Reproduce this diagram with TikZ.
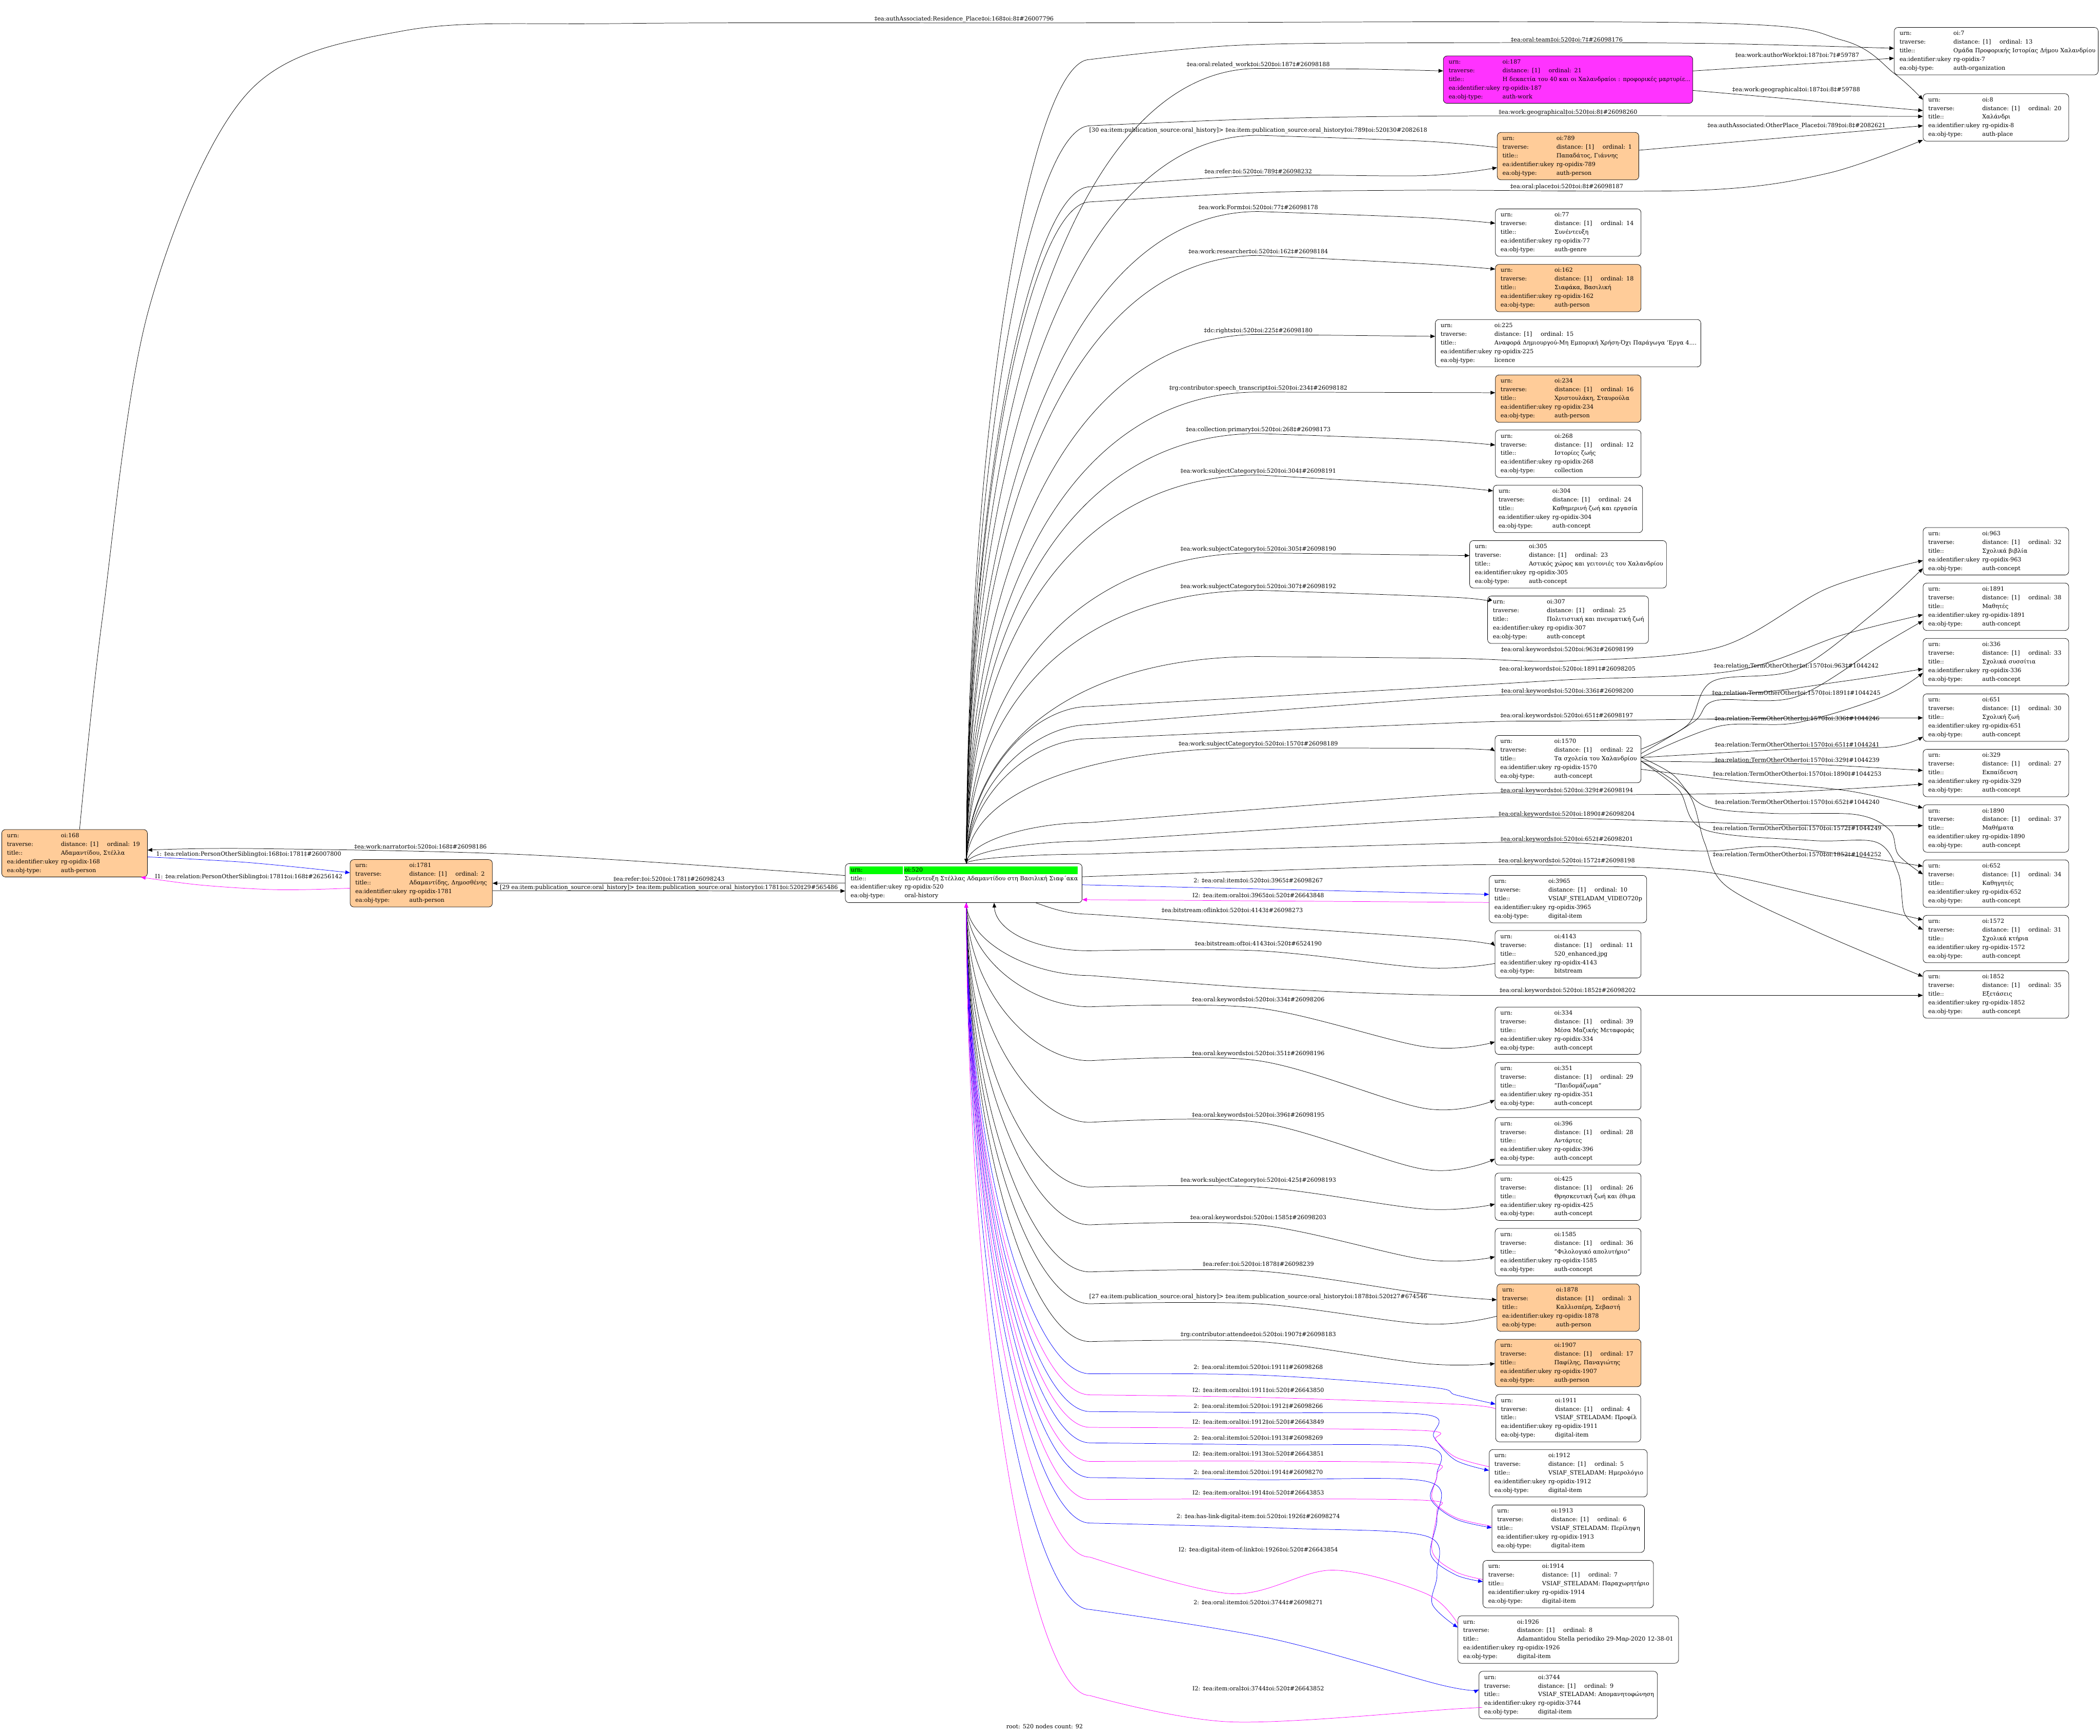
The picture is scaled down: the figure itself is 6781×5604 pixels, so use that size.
\documentclass[tikz,border=0pt]{standalone}
\usepackage{fontspec}
\setmainfont{DejaVu Serif}
\usetikzlibrary{arrows.meta,calc}
\definecolor{peach}{RGB}{255,204,153}
\definecolor{workpink}{RGB}{255,51,255}
\definecolor{rootgreen}{RGB}{0,255,0}
\definecolor{itemblue}{RGB}{0,0,255}
\definecolor{itemmag}{RGB}{255,0,255}

\newcommand\recfont{\fontsize{5.3pt}{7.97pt}\selectfont}
\newcommand\reccol[1]{\makebox[1.74cm][l]{#1}}
\newcommand\recrows[4]{%
  \mbox{\reccol{urn:}oi:#1}\\
  \mbox{\reccol{traverse:}\makebox[1.49cm][l]{distance: [1]}ordinal: #2}\\
  \mbox{\reccol{title::}#3}\\
  \mbox{\reccol{ea:identifier:ukey}rg-opidix-#1}\\
  \mbox{\reccol{ea:obj-type:}#4}}

\begin{document}
\begin{tikzpicture}[
  x=0.01cm, y=-0.01cm, line width=0.35pt,
  rec/.style 2 args={draw, rounded corners=0.12cm, anchor=north west,
    minimum width=#1cm, text width=#2cm, minimum height=1.53cm,
    inner xsep=0.17cm, inner ysep=0pt, align=left, font=\recfont},
  person/.style={fill=peach},
  work/.style={fill=workpink},
  lbl/.style={font=\recfont, inner sep=0pt},
  arr/.style={-{Triangle[length=0.15cm,width=0.12cm]}},
  itm/.style={arr, itemblue},
  bck/.style={arr, itemmag},
  spl/.style={smooth, tension=0.55}
]
\fill[white] (0,0) rectangle (6781,5604);
\useasboundingbox (0,0) rectangle (6781,5604);

% root record
\fill[rootgreen] (2743,2797) rectangle (2915,2822);
\fill[rootgreen] (2918,2797) rectangle (3480,2822);
\node[rec={7.64}{7.30}, minimum height=1.26cm] (n520) at (2729,2788)
  {\mbox{\reccol{urn:}oi:520}\\
   \mbox{\reccol{title::}Συνέντευξη Στέλλας Αδαμαντίδου στη Βασιλική Σιαφ΄ακα}\\
   \mbox{\reccol{ea:identifier:ukey}rg-opidix-520}\\
   \mbox{\reccol{ea:obj-type:}oral-history}};

% left side
\node[rec={4.70}{4.36}, person] (n168)  at (5,2678)    {\recrows{168}{19}{Αδαμαντίδου, Στέλλα}{auth-person}};
\node[rec={4.59}{4.25}, person] (n1781) at (1130,2775) {\recrows{1781}{2}{Αδαμαντίδης, Δημοσθένης}{auth-person}};

% middle column
\node[rec={8.05}{7.71}, work]   (n187)  at (4660,180)  {\recrows{187}{21}{Η δεκαετία του 40 και οι Χαλανδραίοι : προφορικές μαρτυρίε...}{auth-work}};
\node[rec={4.57}{4.23}, person] (n789)  at (4834,427)  {\recrows{789}{1}{Παπαδάτος, Γιάννης}{auth-person}};
\node[rec={4.70}{4.36}]         (n77)   at (4828,674)  {\recrows{77}{14}{Συνέντευξη}{auth-genre}};
\node[rec={4.70}{4.36}, person] (n162)  at (4828,853)  {\recrows{162}{18}{Σιαφάκα, Βασιλική}{auth-person}};
\node[rec={8.57}{8.23}]         (n225)  at (4634,1031) {\recrows{225}{15}{Αναφορά Δημιουργού-Μη Εμπορική Χρήση-Όχι Παράγωγα 'Εργα 4....}{licence}};
\node[rec={4.70}{4.36}, person] (n234)  at (4828,1210) {\recrows{234}{16}{Χριστουλάκη, Σταυρούλα}{auth-person}};
\node[rec={4.70}{4.36}]         (n268)  at (4828,1388) {\recrows{268}{12}{Ιστορίες ζωής}{collection}};
\node[rec={4.82}{4.48}]         (n304)  at (4821,1566) {\recrows{304}{24}{Καθημερινή ζωή και εργασία}{auth-concept}};
\node[rec={6.35}{6.01}]         (n305)  at (4745,1745) {\recrows{305}{23}{Αστικός χώρος και γειτονιές του Χαλανδρίου}{auth-concept}};
\node[rec={5.19}{4.85}]         (n307)  at (4803,1924) {\recrows{307}{25}{Πολιτιστική και πνευματική ζωή}{auth-concept}};
\node[rec={4.71}{4.37}]         (n1570) at (4827,2374) {\recrows{1570}{22}{Τα σχολεία του Χαλανδρίου}{auth-concept}};
\node[rec={5.08}{4.74}]         (n3965) at (4808,2826) {\recrows{3965}{10}{VSIAF\_STELADAM\_VIDEO720p}{digital-item}};
\node[rec={4.71}{4.37}]         (n4143) at (4827,3004) {\recrows{4143}{11}{520\_enhanced.jpg}{bitstream}};
\node[rec={4.71}{4.37}]         (n334)  at (4827,3251) {\recrows{334}{39}{Μέσα Μαζικής Μεταφοράς}{auth-concept}};
\node[rec={4.71}{4.37}]         (n351)  at (4827,3430) {\recrows{351}{29}{"Παιδομάζωμα"}{auth-concept}};
\node[rec={4.71}{4.37}]         (n396)  at (4827,3608) {\recrows{396}{28}{Αντάρτες}{auth-concept}};
\node[rec={4.71}{4.37}]         (n425)  at (4827,3787) {\recrows{425}{26}{Θρησκευτική ζωή και έθιμα}{auth-concept}};
\node[rec={4.71}{4.37}]         (n1585) at (4827,3966) {\recrows{1585}{36}{"Φιλολογικό απολυτήριο"}{auth-concept}};
\node[rec={4.60}{4.26}, person] (n1878) at (4833,4145) {\recrows{1878}{3}{Καλλισπέρη, Σεβαστή}{auth-person}};
\node[rec={4.71}{4.37}, person] (n1907) at (4827,4324) {\recrows{1907}{17}{Παφίλης, Παναγιώτης}{auth-person}};
\node[rec={4.68}{4.34}]         (n1911) at (4829,4502) {\recrows{1911}{4}{VSIAF\_STELADAM: Προφίλ}{digital-item}};
\node[rec={5.10}{4.76}]         (n1912) at (4808,4680) {\recrows{1912}{5}{VSIAF\_STELADAM: Ημερολόγιο}{digital-item}};
\node[rec={4.92}{4.58}]         (n1913) at (4817,4859) {\recrows{1913}{6}{VSIAF\_STELADAM: Περίληψη}{digital-item}};
\node[rec={5.50}{5.16}]         (n1914) at (4788,5038) {\recrows{1914}{7}{VSIAF\_STELADAM: Παραχωρητήριο}{digital-item}};
\node[rec={7.12}{6.78}]         (n1926) at (4707,5217) {\recrows{1926}{8}{Adamantidou Stella periodiko 29-Μαρ-2020 12-38-01}{digital-item}};
\node[rec={5.76}{5.42}]         (n3744) at (4775,5396) {\recrows{3744}{9}{VSIAF\_STELADAM: Απομανητοφώνηση}{digital-item}};

% right column
\node[rec={6.58}{6.24}] (n7)    at (6116,88)   {\recrows{7}{13}{Ομάδα Προφορικής Ιστορίας Δήμου Χαλανδρίου}{auth-organization}};
\node[rec={4.70}{4.36}] (n8)    at (6209,302)  {\recrows{8}{20}{Χαλάνδρι}{auth-place}};
\node[rec={4.70}{4.36}] (n963)  at (6209,1703) {\recrows{963}{32}{Σχολικά βιβλία}{auth-concept}};
\node[rec={4.70}{4.36}] (n1891) at (6209,1882) {\recrows{1891}{38}{Μαθητές}{auth-concept}};
\node[rec={4.70}{4.36}] (n336)  at (6209,2061) {\recrows{336}{33}{Σχολικά συσσίτια}{auth-concept}};
\node[rec={4.70}{4.36}] (n651)  at (6209,2240) {\recrows{651}{30}{Σχολική ζωή}{auth-concept}};
\node[rec={4.70}{4.36}] (n329)  at (6209,2419) {\recrows{329}{27}{Εκπαίδευση}{auth-concept}};
\node[rec={4.70}{4.36}] (n1890) at (6209,2598) {\recrows{1890}{37}{Μαθήματα}{auth-concept}};
\node[rec={4.70}{4.36}] (n652)  at (6209,2776) {\recrows{652}{34}{Καθηγητές}{auth-concept}};
\node[rec={4.70}{4.36}] (n1572) at (6209,2955) {\recrows{1572}{31}{Σχολικά κτήρια}{auth-concept}};
\node[rec={4.70}{4.36}] (n1852) at (6209,3134) {\recrows{1852}{35}{Εξετάσεις}{auth-concept}};

% ports
\coordinate (top520) at ($(n520.north west)+(391,0)$);
\coordinate (bot520) at ($(n520.south west)+(391,0)$);
\coordinate (bot520b) at ($(n520.south west)+(616,0)$);
\coordinate (p520b2) at ($(n520.south west)+(481,0)$);
\coordinate (p520w1) at ($(n520.north west)+(0,39)$);
\coordinate (p520w2) at ($(n520.north west)+(0,63)$);
\coordinate (p520w3) at ($(n520.north west)+(0,89)$);
\coordinate (p520e1) at ($(n520.north east)+(0,43)$);
\coordinate (p520e2) at ($(n520.north east)+(0,69)$);
\coordinate (p520e3) at ($(n520.north east)+(0,117)$);
\coordinate (p168t)  at ($(n168.north west)+(252,0)$);
\coordinate (p168m)  at ($(n168.south west)+(450,0)$);
\coordinate (p168e1) at ($(n168.north east)+(0,67)$);
\coordinate (p168e2) at ($(n168.north east)+(0,89)$);
\coordinate (p1781s) at ($(n1781.north west)+(0,43)$);
\coordinate (p1781m) at ($(n1781.north west)+(0,93)$);
\coordinate (p1781r) at ($(n1781.north east)+(0,77)$);
\coordinate (p1781o) at ($(n1781.north east)+(0,101)$);
\coordinate (p7a) at ($(n7.north west)+(0,68)$);
\coordinate (p7b) at ($(n7.north west)+(0,100)$);
\coordinate (p8a) at ($(n8.north west)+(0,20)$);
\coordinate (p8b) at ($(n8.north west)+(0,55)$);
\coordinate (p8c) at ($(n8.north west)+(0,74)$);
\coordinate (p8d) at ($(n8.north west)+(0,104)$);
\coordinate (p8e) at ($(n8.north west)+(0,150)$);
\coordinate (p187)   at ($(n187.north west)+(0,49)$);
\coordinate (p187e1) at ($(n187.north east)+(0,49)$);
\coordinate (p187e2) at ($(n187.north east)+(0,112)$);
\coordinate (p789i) at ($(n789.north west)+(0,114)$);
\coordinate (p789o) at ($(n789.north west)+(0,49)$);
\coordinate (p789e) at ($(n789.north east)+(0,58)$);
\coordinate (p77)  at ($(n77.north west)+(0,47)$);
\coordinate (p162) at ($(n162.north west)+(0,16)$);
\coordinate (p225) at ($(n225.north west)+(0,55)$);
\coordinate (p234) at ($(n234.north west)+(0,58)$);
\coordinate (p268) at ($(n268.north west)+(0,49)$);
\coordinate (p304) at ($(n304.north west)+(0,19)$);
\coordinate (p305) at ($(n305.north west)+(0,49)$);
\coordinate (p307) at ($(n307.north west)+(0,21)$);
\coordinate (p1570)   at ($(n1570.north west)+(0,52)$);
\coordinate (p1570e1) at ($(n1570.north east)+(0,45)$);
\coordinate (p1570e2) at ($(n1570.north east)+(0,59)$);
\coordinate (p1570e3) at ($(n1570.north east)+(0,72)$);
\coordinate (p1570e4) at ($(n1570.north east)+(0,84)$);
\coordinate (p1570e5) at ($(n1570.north east)+(0,110)$);
\coordinate (p3965i) at ($(n3965.north west)+(0,62)$);
\coordinate (p3965o) at ($(n3965.north west)+(0,88)$);
\coordinate (p4143i) at ($(n4143.north west)+(0,51)$);
\coordinate (p4143o) at ($(n4143.north west)+(0,107)$);
\coordinate (p334)  at ($(n334.north west)+(0,113)$);
\coordinate (p351)  at ($(n351.north west)+(0,122)$);
\coordinate (p396)  at ($(n396.north west)+(0,134)$);
\coordinate (p425)  at ($(n425.north west)+(0,101)$);
\coordinate (p1585) at ($(n1585.north west)+(0,92)$);
\coordinate (p1878i) at ($(n1878.north west)+(0,52)$);
\coordinate (p1878o) at ($(n1878.north west)+(0,105)$);
\coordinate (p1907)  at ($(n1907.north west)+(0,79)$);
\coordinate (p1911i) at ($(n1911.north west)+(0,32)$);
\coordinate (p1911o) at ($(n1911.north west)+(0,47)$);
\coordinate (p1912i) at ($(n1912.north west)+(0,68)$);
\coordinate (p1912o) at ($(n1912.north west)+(0,56)$);
\coordinate (p1913i) at ($(n1913.north west)+(0,74)$);
\coordinate (p1913o) at ($(n1913.north west)+(0,69)$);
\coordinate (p1914i) at ($(n1914.north west)+(0,69)$);
\coordinate (p1914o) at ($(n1914.north west)+(0,62)$);
\coordinate (p1926i) at ($(n1926.north west)+(0,38)$);
\coordinate (p1926o) at ($(n1926.north west)+(0,26)$);
\coordinate (p3744i) at ($(n3744.north west)+(0,60)$);
\coordinate (p3744o) at ($(n3744.north west)+(0,118)$);
\coordinate (p963k)  at ($(n963.north west)+(0,107)$);
\coordinate (p963r)  at ($(n963.north west)+(0,132)$);
\coordinate (p1891k) at ($(n1891.north west)+(0,103)$);
\coordinate (p1891r) at ($(n1891.north west)+(0,123)$);
\coordinate (p336k)  at ($(n336.north west)+(0,99)$);
\coordinate (p336r)  at ($(n336.north west)+(0,112)$);
\coordinate (p651k)  at ($(n651.north west)+(0,78)$);
\coordinate (p651r)  at ($(n651.north west)+(0,139)$);
\coordinate (p329r)  at ($(n329.north west)+(0,69)$);
\coordinate (p329k)  at ($(n329.north west)+(0,113)$);
\coordinate (p1890r) at ($(n1890.north west)+(0,11)$);
\coordinate (p1890k) at ($(n1890.north west)+(0,68)$);
\coordinate (p652k)  at ($(n652.north west)+(0,21)$);
\coordinate (p652r)  at ($(n652.north west)+(0,47)$);
\coordinate (p1572k) at ($(n1572.north west)+(0,15)$);
\coordinate (p1572r) at ($(n1572.north west)+(0,47)$);
\coordinate (p1852r) at ($(n1852.north west)+(0,19)$);
\coordinate (p1852k) at ($(n1852.north west)+(0,80)$);

% edge labels
\node[lbl] (lres)    at (3113,62)   {‡ea:authAssociated:Residence\_Place‡oi:168‡oi:8‡\#26007796};
\node[lbl] (lteam)   at (5059,128)  {‡ea:oral:team‡oi:520‡oi:7‡\#26098176};
\node[lbl] (lauth)   at (5803,179)  {‡ea:work:authorWork‡oi:187‡oi:7‡\#59787};
\node[lbl] (lrelw)   at (4063,209)  {‡ea:oral:related\_work‡oi:520‡oi:187‡\#26098188};
\node[lbl] (lgeo187) at (5800,290)  {‡ea:work:geographical‡oi:187‡oi:8‡\#59788};
\node[lbl] (lgeo520) at (5063,363)  {‡ea:work:geographical‡oi:520‡oi:8‡\#26098260};
\node[lbl] (lother)  at (5801,406)  {‡ea:authAssociated:OtherPlace\_Place‡oi:789‡oi:8‡\#2082621};
\node[lbl] (lpub30)  at (4063,422)  {[30 ea:item:publication\_source:oral\_history]> ‡ea:item:publication\_source:oral\_history‡oi:789‡oi:520‡30\#2082618};
\node[lbl] (lref789) at (4063,555)  {‡ea:refer:‡oi:520‡oi:789‡\#26098232};
\node[lbl] (lplace)  at (5059,603)  {‡ea:oral:place‡oi:520‡oi:8‡\#26098187};
\node[lbl] (lform)   at (4063,670)  {‡ea:work:Form‡oi:520‡oi:77‡\#26098178};
\node[lbl] (lresear) at (4063,813)  {‡ea:work:researcher‡oi:520‡oi:162‡\#26098184};
\node[lbl] (lrights) at (4063,1068) {‡dc:rights‡oi:520‡oi:225‡\#26098180};
\node[lbl] (lspeech) at (4063,1254) {‡rg:contributor:speech\_transcript‡oi:520‡oi:234‡\#26098182};
\node[lbl] (lcoll)   at (4063,1388) {‡ea:collection:primary‡oi:520‡oi:268‡\#26098173};
\node[lbl] (lsub304) at (4063,1522) {‡ea:work:subjectCategory‡oi:520‡oi:304‡\#26098191};
\node[lbl] (lsub305) at (4063,1773) {‡ea:work:subjectCategory‡oi:520‡oi:305‡\#26098190};
\node[lbl] (lsub307) at (4063,1894) {‡ea:work:subjectCategory‡oi:520‡oi:307‡\#26098192};
\node[lbl] (lkw963)  at (5061,2098) {‡ea:oral:keywords‡oi:520‡oi:963‡\#26098199};
\node[lbl] (lrel963) at (5800,2150) {‡ea:relation:TermOtherOther‡oi:1570‡oi:963‡\#1044242};
\node[lbl] (lkw1891) at (5061,2162) {‡ea:oral:keywords‡oi:520‡oi:1891‡\#26098205};
\node[lbl] (lkw336)  at (5061,2232) {‡ea:oral:keywords‡oi:520‡oi:336‡\#26098200};
\node[lbl] (lrel1891) at (5800,2237) {‡ea:relation:TermOtherOther‡oi:1570‡oi:1891‡\#1044245};
\node[lbl] (lkw651)  at (5059,2312) {‡ea:oral:keywords‡oi:520‡oi:651‡\#26098197};
\node[lbl] (lrel336) at (5803,2321) {‡ea:relation:TermOtherOther‡oi:1570‡oi:336‡\#1044246};
\node[lbl] (lsub1570) at (4063,2403) {‡ea:work:subjectCategory‡oi:520‡oi:1570‡\#26098189};
\node[lbl] (lrel651) at (5803,2405) {‡ea:relation:TermOtherOther‡oi:1570‡oi:651‡\#1044241};
\node[lbl] (lrel329) at (5803,2454) {‡ea:relation:TermOtherOther‡oi:1570‡oi:329‡\#1044239};
\node[lbl] (lrel1890) at (5803,2499) {‡ea:relation:TermOtherOther‡oi:1570‡oi:1890‡\#1044253};
\node[lbl] (lkw329)  at (5059,2554) {‡ea:oral:keywords‡oi:520‡oi:329‡\#26098194};
\node[lbl] (lrel652) at (5803,2591) {‡ea:relation:TermOtherOther‡oi:1570‡oi:652‡\#1044240};
\node[lbl] (lkw1890) at (5059,2630) {‡ea:oral:keywords‡oi:520‡oi:1890‡\#26098204};
\node[lbl] (lrel1572) at (5803,2675) {‡ea:relation:TermOtherOther‡oi:1570‡oi:1572‡\#1044249};
\node[lbl] (lkw652)  at (5059,2710) {‡ea:oral:keywords‡oi:520‡oi:652‡\#26098201};
\node[lbl] (lrel1852) at (5803,2760) {‡ea:relation:TermOtherOther‡oi:1570‡oi:1852‡\#1044252};
\node[lbl] (lkw1572) at (5059,2781) {‡ea:oral:keywords‡oi:520‡oi:1572‡\#26098198};
\node[lbl] (lit3965) at (4063,2844) {2: ‡ea:oral:item‡oi:520‡oi:3965‡\#26098267};
\node[lbl] (lbk3965) at (4063,2892) {I2: ‡ea:item:oral‡oi:3965‡oi:520‡\#26643848};
\node[lbl] (loflink) at (3979,2940) {‡ea:bitstream:oflink‡oi:520‡oi:4143‡\#26098273};
\node[lbl] (lof)     at (4063,3048) {‡ea:bitstream:of‡oi:4143‡oi:520‡\#6524190};
\node[lbl] (lkw1852) at (5062,3200) {‡ea:oral:keywords‡oi:520‡oi:1852‡\#26098202};
\node[lbl] (lkw334)  at (4063,3229) {‡ea:oral:keywords‡oi:520‡oi:334‡\#26098206};
\node[lbl] (lkw351)  at (4063,3403) {‡ea:oral:keywords‡oi:520‡oi:351‡\#26098196};
\node[lbl] (lkw396)  at (4063,3602) {‡ea:oral:keywords‡oi:520‡oi:396‡\#26098195};
\node[lbl] (lsub425) at (4063,3811) {‡ea:work:subjectCategory‡oi:520‡oi:425‡\#26098193};
\node[lbl] (lkw1585) at (4063,3933) {‡ea:oral:keywords‡oi:520‡oi:1585‡\#26098203};
\node[lbl] (lref1878) at (4063,4082) {‡ea:refer:‡oi:520‡oi:1878‡\#26098239};
\node[lbl] (lpub27)  at (4063,4188) {[27 ea:item:publication\_source:oral\_history]> ‡ea:item:publication\_source:oral\_history‡oi:1878‡oi:520‡27\#674546};
\node[lbl] (lattend) at (4063,4310) {‡rg:contributor:attendee‡oi:520‡oi:1907‡\#26098183};
\node[lbl] (lit1911) at (4063,4414) {2: ‡ea:oral:item‡oi:520‡oi:1911‡\#26098268};
\node[lbl] (lbk1911) at (4063,4490) {I2: ‡ea:item:oral‡oi:1911‡oi:520‡\#26643850};
\node[lbl] (lit1912) at (4063,4541) {2: ‡ea:oral:item‡oi:520‡oi:1912‡\#26098266};
\node[lbl] (lbk1912) at (4063,4592) {I2: ‡ea:item:oral‡oi:1912‡oi:520‡\#26643849};
\node[lbl] (lit1913) at (4063,4643) {2: ‡ea:oral:item‡oi:520‡oi:1913‡\#26098269};
\node[lbl] (lbk1913) at (4063,4695) {I2: ‡ea:item:oral‡oi:1913‡oi:520‡\#26643851};
\node[lbl] (lit1914) at (4063,4754) {2: ‡ea:oral:item‡oi:520‡oi:1914‡\#26098270};
\node[lbl] (lbk1914) at (4063,4820) {I2: ‡ea:item:oral‡oi:1914‡oi:520‡\#26643853};
\node[lbl] (llk1926) at (4063,4898) {2: ‡ea:has-link-digital-item:‡oi:520‡oi:1926‡\#26098274};
\node[lbl] (lbk1926) at (4063,5006) {I2: ‡ea:digital-item-of:link‡oi:1926‡oi:520‡\#26643854};
\node[lbl] (lit3744) at (4063,5175) {2: ‡ea:oral:item‡oi:520‡oi:3744‡\#26098271};
\node[lbl] (lbk3744) at (4063,5453) {I2: ‡ea:item:oral‡oi:3744‡oi:520‡\#26643852};
\node[lbl] (lnarr)   at (1358,2735) {‡ea:work:narrator‡oi:520‡oi:168‡\#26098186};
\node[lbl] (lsib)    at (803,2758)  {1: ‡ea:relation:PersonOtherSibling‡oi:168‡oi:1781‡\#26007800};
\node[lbl] (lsibbk)  at (803,2832)  {I1: ‡ea:relation:PersonOtherSibling‡oi:1781‡oi:168‡\#26256142};
\node[lbl] (lref1781) at (2160,2838) {‡ea:refer:‡oi:520‡oi:1781‡\#26098243};
\node[lbl] (lpub29)  at (2160,2866) {[29 ea:item:publication\_source:oral\_history]> ‡ea:item:publication\_source:oral\_history‡oi:1781‡oi:520‡29\#565486};
\node[lbl] (lroot)   at (3373,5575) {root: 520 nodes count: 92};

% edges leaving the top of 520
\draw[arr] (top520) .. controls (3125,1360) and (3330,192) .. (3520,192) --plot[spl] coordinates {(3520,192) (4000,146) (4700,138) (5500,140) (p7a)};
\draw[arr] (top520) .. controls (3125,1376) and (3450,221) .. (4063,221) --plot[spl] coordinates {(4063,221) (4400,223) (p187)};
\draw[arr] (top520) .. controls (3125,1478) and (3330,406) .. (3520,406) --plot[spl] coordinates {(3520,406) (4063,384) (4600,375) (5500,374) (p8c)};
\draw[arr] plot[spl] coordinates {(p789o) (4600,456) (4063,437)} .. controls (3450,437) and (3125,1495) .. (top520);
\draw[arr] (top520) .. controls (3125,1587) and (3330,603) .. (3520,603) --plot[spl] coordinates {(3520,603) (4063,567) (4600,567) (p789i)};
\draw[arr] (top520) .. controls (3125,1613) and (3330,652) .. (3520,652) --plot[spl] coordinates {(3520,652) (4063,622) (4600,614) (5493,614) (5900,560) (p8e)};
\draw[arr] (top520) .. controls (3125,1630) and (3450,683) .. (4063,683) --plot[spl] coordinates {(4063,683) (4600,703) (p77)};
\draw[arr] (top520) .. controls (3125,1709) and (3450,825) .. (4063,825) --plot[spl] coordinates {(4063,825) (4600,852) (p162)};
\draw[arr] (top520) .. controls (3125,1849) and (3450,1080) .. (4063,1080) -- (p225);
\draw[arr] (top520) .. controls (3125,1951) and (3450,1266) .. (4063,1266) -- (p234);
\draw[arr] (top520) .. controls (3125,2025) and (3450,1400) .. (4063,1400) --plot[spl] coordinates {(4063,1400) (4600,1420) (p268)};
\draw[arr] (top520) .. controls (3125,2099) and (3450,1534) .. (4063,1534) --plot[spl] coordinates {(4063,1534) (4600,1565) (p304)};
\draw[arr] (top520) .. controls (3125,2237) and (3450,1785) .. (4063,1785) -- (p305);
\draw[arr] (top520) .. controls (3125,2303) and (3450,1906) .. (4063,1906) --plot[spl] coordinates {(4063,1906) (4700,1929) (p307)};
\draw[arr] (top520) .. controls (3125,2421) and (3450,2120) .. (4063,2120) --plot[spl] coordinates {(4063,2120) (4700,2126) (5061,2134) (5550,2090) (5900,1900) (p963k)};
\draw[arr] (top520) .. controls (3125,2510) and (3330,2281) .. (3520,2281) --plot[spl] coordinates {(3520,2281) (4700,2216) (5061,2195) (5600,2166) (5950,2050) (p1891k)};
\draw[arr] (top520) .. controls (3125,2542) and (3330,2340) .. (3520,2340) --plot[spl] coordinates {(3520,2340) (4700,2251) (5061,2246) (5600,2242) (5950,2200) (p336k)};
\draw[arr] (top520) .. controls (3125,2567) and (3330,2385) .. (3520,2385) --plot[spl] coordinates {(3520,2385) (4700,2334) (5061,2328) (5700,2320) (p651k)};
\draw[arr] (top520) .. controls (3125,2583) and (3450,2415) .. (4063,2415) --plot[spl] coordinates {(4063,2415) (4700,2417) (p1570)};
\draw[arr] (top520) .. controls (3125,2716) and (3330,2656) .. (3520,2656) --plot[spl] coordinates {(3520,2656) (4700,2566) (5059,2567) (5700,2560) (p329k)};
\draw[arr] (top520) .. controls (3125,2749) and (3330,2716) .. (3520,2716) --plot[spl] coordinates {(3520,2716) (4700,2643) (5059,2642) (5800,2664) (p1890k)};
\draw[arr] (top520) .. controls (3125,2772) and (3330,2758) .. (3520,2758) --plot[spl] coordinates {(3520,2758) (4700,2723) (5059,2721) (5490,2748) (5750,2735) (p652k)};

% edges on the right side of 520
\draw[arr] plot[spl] coordinates {(p520e1) (4063,2812) (4700,2793) (5059,2795) (5500,2815) (5900,2900) (p1572k)};
\draw[itm] (p520e2) -- (p3965i);
\draw[bck] (p3965o) -- (p520e3);

% edges leaving the bottom of 520
\draw[arr] (bot520b) .. controls (3400,2935) and (3450,2952) .. (3520,2952) --plot[spl] coordinates {(3520,2952) (4063,2990) (4700,3034) (p4143i)};
\draw[arr] plot[spl] coordinates {(p4143o) (4600,3125) (4063,3070) (3520,3070)} .. controls (3330,3070) and (3215,3000) .. (p520b2);
\draw[arr] (bot520) .. controls (3125,3044) and (3330,3150) .. (3520,3150) --plot[spl] coordinates {(3520,3150) (4063,3190) (4600,3212) (5062,3214) (p1852k)};
\draw[arr] (bot520) .. controls (3125,3099) and (3330,3251) .. (3520,3251) --plot[spl] coordinates {(3520,3251) (4063,3255) (4600,3380) (p334)};
\draw[arr] (bot520) .. controls (3125,3195) and (3330,3425) .. (3520,3425) --plot[spl] coordinates {(3520,3425) (4063,3425) (4600,3579) (p351)};
\draw[arr] (bot520) .. controls (3125,3304) and (3330,3624) .. (3520,3624) --plot[spl] coordinates {(3520,3624) (4063,3624) (4600,3776) (p396)};
\draw[arr] (bot520) .. controls (3125,3419) and (3330,3833) .. (3520,3833) --plot[spl] coordinates {(3520,3833) (4063,3833) (4600,3904) (p425)};
\draw[arr] (bot520) .. controls (3125,3486) and (3330,3955) .. (3520,3955) --plot[spl] coordinates {(3520,3955) (4063,3955) (4600,4067) (p1585)};
\draw[arr] (bot520) .. controls (3125,3570) and (3330,4107) .. (3520,4107) --plot[spl] coordinates {(3520,4107) (4063,4104) (4600,4177) (p1878i)};
\draw[arr] plot[spl] coordinates {(p1878o) (4600,4275) (4063,4210) (3520,4210)} .. controls (3330,4210) and (3125,3627) .. (bot520);
\draw[arr] (bot520) .. controls (3125,3694) and (3330,4332) .. (3520,4332) --plot[spl] coordinates {(3520,4332) (4063,4332) (4600,4403) (p1907)};
\draw[itm] (bot520) .. controls (3125,3751) and (3330,4436) .. (3520,4436) --plot[spl] coordinates {(3520,4436) (4063,4440) (4616,4479) (4700,4504) (p1911i)};
\draw[bck] plot[spl] coordinates {(p1911o) (4700,4534) (4063,4512) (3520,4504)} .. controls (3330,4504) and (3125,3788) .. (bot520);
\draw[itm] (bot520) .. controls (3125,3818) and (3330,4558) .. (3520,4558) --plot[spl] coordinates {(3520,4558) (4063,4562) (4605,4568) (4630,4640) (4700,4715) (p1912i)};
\draw[bck] plot[spl] coordinates {(p1912o) (4700,4705) (4635,4650) (4610,4620) (4063,4612) (3520,4609)} .. controls (3330,4609) and (3125,3846) .. (bot520);
\draw[itm] (bot520) .. controls (3125,3873) and (3330,4659) .. (3520,4659) --plot[spl] coordinates {(3520,4659) (4063,4665) (4605,4673) (4640,4760) (4620,4840) (4700,4905) (p1913i)};
\draw[bck] plot[spl] coordinates {(p1913o) (4700,4900) (4625,4840) (4640,4760) (4610,4725) (4063,4718) (3520,4719)} .. controls (3330,4719) and (3125,3906) .. (bot520);
\draw[itm] (bot520) .. controls (3125,3935) and (3330,4771) .. (3520,4771) --plot[spl] coordinates {(3520,4771) (4063,4778) (4605,4783) (4640,4900) (4620,5020) (4700,5085) (p1914i)};
\draw[bck] plot[spl] coordinates {(p1914o) (4700,5075) (4625,5010) (4640,4880) (4610,4845) (4063,4840) (3520,4842)} .. controls (3330,4842) and (3125,3974) .. (bot520);
\draw[itm] (bot520) .. controls (3125,4016) and (3330,4918) .. (3520,4918) --plot[spl] coordinates {(3520,4918) (4160,4935) (4605,4960) (4640,5080) (4625,5180) (p1926i)};
\draw[bck] plot[spl] coordinates {(p1926o) (4605,5146) (4301,5070) (3976,5146) (3520,5028)} .. controls (3330,5028) and (3125,4076) .. (bot520);
\draw[itm] (bot520) .. controls (3125,4169) and (3330,5197) .. (3520,5197) --plot[spl] coordinates {(3520,5197) (4100,5290) (4650,5440) (p3744i)};
\draw[bck] plot[spl] coordinates {(p3744o) (4700,5518) (3976,5560) (3520,5475)} .. controls (3330,5475) and (3125,4322) .. (bot520);

% left side edges
\draw[arr] plot[spl] coordinates {(p520w1) (1700,2760) (813,2740) (p168e1)};
\draw[itm] plot[spl] coordinates {(p168e2) (800,2785) (p1781s)};
\draw[bck] plot[spl] coordinates {(p1781m) (900,2873) (650,2858) (p168m)};
\draw[arr] (p520w2) -- (p1781r);
\draw[arr] (p1781o) -- (p520w3);
\draw[arr] plot[spl] coordinates {(p168t) (330,2000) (480,1000) (800,300) (1300,100) (2000,76) (3400,74) (5500,74) (5950,130) (6120,240) (p8a)};

% work / person to place
\draw[arr] (p187e1) -- (p7b);
\draw[arr] (p187e2) -- (p8b);
\draw[arr] (p789e) -- (p8d);

% term relations of 1570
\draw[arr] plot[spl] coordinates {(p1570e1) (5450,2340) (5530,2200) (5800,2162) (6050,1980) (p963r)};
\draw[arr] plot[spl] coordinates {(p1570e2) (5470,2330) (5540,2262) (5800,2250) (6080,2080) (p1891r)};
\draw[arr] plot[spl] coordinates {(p1570e3) (5550,2345) (5800,2334) (6080,2250) (p336r)};
\draw[arr] plot[spl] coordinates {(p1570e3) (5800,2418) (6102,2412) (p651r)};
\draw[arr] plot[spl] coordinates {(p1570e4) (5800,2466) (p329r)};
\draw[arr] plot[spl] coordinates {(p1570e5) (5600,2520) (5963,2553) (p1890r)};
\draw[arr] plot[spl] coordinates {(p1570e3) (5400,2500) (5504,2602) (5713,2626) (5991,2630) (6102,2680) (6130,2760) (p652r)};
\draw[arr] plot[spl] coordinates {(p1570e4) (5420,2550) (5504,2679) (5852,2714) (6060,2720) (6130,2820) (6150,2950) (p1572r)};
\draw[arr] plot[spl] coordinates {(p1570e4) (5450,2560) (5504,2721) (5574,2861) (5852,3002) (p1852r)};
\end{tikzpicture}
\end{document}
